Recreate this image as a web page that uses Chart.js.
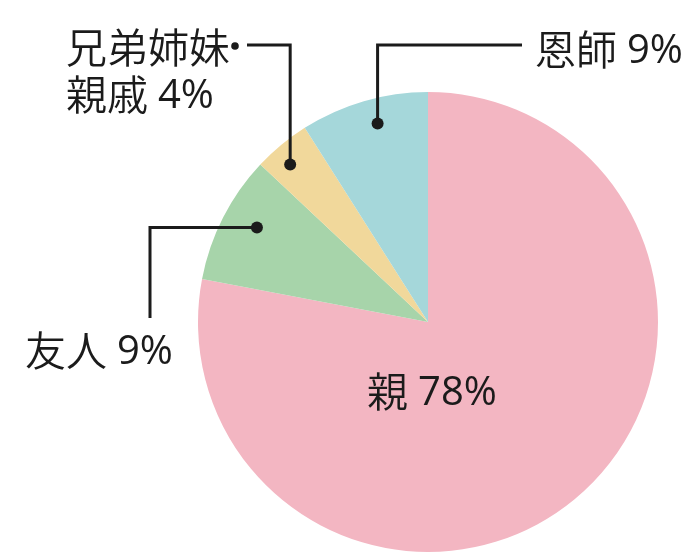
<!DOCTYPE html>
<html lang="ja">
<head>
<meta charset="utf-8">
<title>相談相手</title>
<script src="https://cdn.jsdelivr.net/npm/chart.js@4"></script>
<style>
  html, body { margin: 0; padding: 0; background: #ffffff; }
  #wrap { position: relative; width: 700px; height: 553px; }
</style>
</head>
<body>
<div id="wrap"><canvas id="pieChart"></canvas></div>
<script>
// Data
const categories = ['親', '友人', '兄弟姉妹・親戚', '恩師'];
const shares = [78, 9, 4, 9];
const sliceColors = ['#f3b6c2', '#a7d4aa', '#f1d89b', '#a5d7da'];

const CJK_FONT = '350 41px "Noto Sans CJK JP", sans-serif';
const NUM_FONT = '400 40px "Open Sans", "Noto Sans", sans-serif';
const INK = '#1b1b1b';
const GAP = 10;

// Where each label sits and how its leader line bends (layout only)
// at: position along the slice's arc (0..1), dot: fraction of the radius
const labelLayout = [
  { inside: true, x: 432, y: 391 },
  { at: 0.56, dot: 0.85, elbowX: 150, endY: 318, textX: 25, textY: 350 },
  { at: 0.39, dot: 0.91, elbowY: 45, endX: 247, bullet: 235, textX: 66, textY: 47, lineGap: 47 },
  { at: 0.56, dot: 0.89, elbowY: 45, endX: 522, textX: 535, textY: 49 }
];

// CJK part in one font, number in a Latin font (as in the original artwork)
function labelWidth(ctx, name, num) {
  ctx.font = CJK_FONT;
  const w1 = ctx.measureText(name).width;
  ctx.font = NUM_FONT;
  return w1 + GAP + ctx.measureText(num).width;
}

function drawLabel(ctx, name, num, x, yMid) {
  ctx.textAlign = 'left';
  ctx.font = CJK_FONT;
  ctx.textBaseline = 'middle';
  ctx.fillText(name, x, yMid);
  const w = ctx.measureText(name).width;
  ctx.font = NUM_FONT;
  ctx.textBaseline = 'alphabetic';
  ctx.fillText(num, x + w + GAP, yMid + 14);
}

const leaderPlugin = {
  id: 'leaders',
  afterDatasetsDraw(chart) {
    const ctx = chart.ctx;
    const arcs = chart.getDatasetMeta(0).data;
    ctx.save();
    ctx.fillStyle = INK;
    ctx.strokeStyle = INK;
    ctx.lineWidth = 3;

    arcs.forEach((arc, i) => {
      const lay = labelLayout[i];
      const num = `${shares[i]}%`;
      if (lay.inside) {
        const w = labelWidth(ctx, categories[i], num);
        drawLabel(ctx, categories[i], num, lay.x - w / 2, lay.y);
        return;
      }
      const p = arc.getProps(['x', 'y', 'startAngle', 'endAngle', 'outerRadius'], true);
      const a = p.startAngle + (p.endAngle - p.startAngle) * lay.at;
      const dx = p.x + Math.cos(a) * p.outerRadius * lay.dot;
      const dy = p.y + Math.sin(a) * p.outerRadius * lay.dot;

      // leader line with its end dot
      ctx.beginPath();
      ctx.moveTo(dx, dy);
      if (lay.elbowY !== undefined) {
        ctx.lineTo(dx, lay.elbowY);
        ctx.lineTo(lay.endX, lay.elbowY);
      } else {
        ctx.lineTo(lay.elbowX, dy);
        ctx.lineTo(lay.elbowX, lay.endY);
      }
      ctx.stroke();

      ctx.beginPath();
      ctx.arc(dx, dy, 6, 0, Math.PI * 2);
      ctx.fill();

      if (lay.bullet !== undefined) {
        const parts = categories[i].split('・');
        ctx.font = CJK_FONT;
        ctx.textAlign = 'left';
        ctx.textBaseline = 'middle';
        ctx.fillText(parts[0], lay.textX, lay.textY);
        drawLabel(ctx, parts[1], num, lay.textX, lay.textY + lay.lineGap);
        ctx.beginPath();
        ctx.arc(lay.bullet, lay.elbowY + 1, 3.8, 0, Math.PI * 2);
        ctx.fill();
      } else {
        drawLabel(ctx, categories[i], num, lay.textX, lay.textY);
      }
    });
    ctx.restore();
  }
};

new Chart(document.getElementById('pieChart'), {
  type: 'pie',
  plugins: [leaderPlugin],
  data: {
    labels: categories,
    datasets: [{
      data: shares,
      backgroundColor: sliceColors,
      borderWidth: 0
    }]
  },
  options: {
    responsive: true,
    maintainAspectRatio: false,
    animation: false,
    layout: { padding: { top: 92, bottom: 1, left: 198, right: 42 } },
    plugins: {
      legend: { display: false },
      tooltip: { enabled: false }
    }
  }
});
</script>
</body>
</html>
